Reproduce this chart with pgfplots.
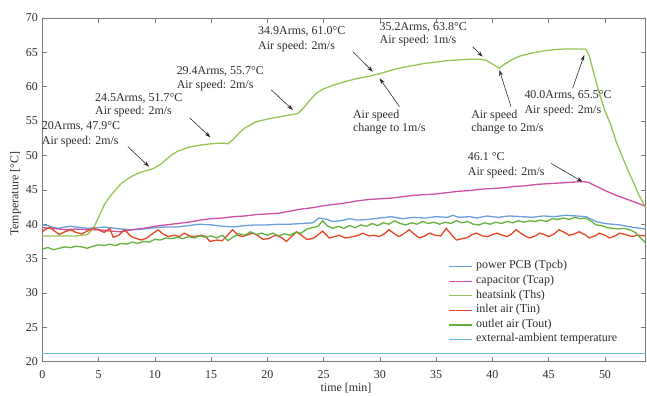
\documentclass[border=0pt]{standalone}
\usepackage{pgfplots}
\pgfplotsset{compat=1.18}
\usepackage{fontspec}
\setmainfont{Liberation Serif}
\usetikzlibrary{arrows.meta}
\definecolor{pcbblue}{RGB}{105,160,220}
\definecolor{capmag}{RGB}{205,80,165}
\definecolor{hsgreen}{RGB}{150,196,85}
\definecolor{inred}{RGB}{228,72,40}
\definecolor{outgreen}{RGB}{100,178,60}
\definecolor{ambcyan}{RGB}{110,185,230}
\definecolor{axgray}{RGB}{120,120,120}
\definecolor{txt}{RGB}{45,45,45}
\begin{document}
\begin{tikzpicture}[font=\fontsize{12}{14}\selectfont]
\begin{axis}[
  scale only axis, width=603.2bp, height=343.7bp,
  xmin=0, xmax=53.6, ymin=20, ymax=70,
  xtick={0,5,...,50}, ytick={20,25,...,70},
  tick align=inside, major tick length=5bp,
  axis line style={axgray, line width=0.7bp},
  every tick/.style={axgray, line width=0.6bp},
  tick label style={font=\fontsize{12}{14}\selectfont, text=txt},
  /pgf/number format/assume math mode=true,
  xticklabel style={anchor=base, yshift=-16.6bp},
  yticklabel style={anchor=east, xshift=-1bp},
  xlabel={time [min]}, ylabel={Temperature [°C]},
  label style={font=\fontsize{12}{14}\selectfont, text=txt},
  xlabel style={at={(axis description cs:0.5035,-0.088)}, anchor=base},
  ylabel style={at={(axis description cs:-0.0398,0.488)}, anchor=base},
  clip=false,
  legend style={draw=none, fill=white, at={(axis cs:36.1,34.9)}, anchor=north west,
    inner sep=0pt, outer sep=0pt, row sep=0pt, column sep=3bp,
    font=\fontsize{12}{14}\selectfont, text=txt,
    nodes={inner sep=0pt, text height=9.6bp, text depth=5bp}},
  legend cell align=left,
  legend image code/.code={\draw[#1] (0bp,0bp) -- (23bp,0bp);},
  every axis plot/.append style={line width=1.3bp},
]
% power PCB
\addplot[draw=pcbblue] coordinates {
(0,39.9)(0.5,39.8)(1,39.5)(1.5,39.4)(2,39.6)(2.5,39.7)(3,39.6)(3.5,39.5)(4,39.4)(5,39.5)(5.5,39.6)(6,39.5)(7,39.3)(8,39.2)(9,39.3)(10,39.5)(11,39.6)(12,39.6)(13,39.8)(14,40.0)(15,39.9)(16,39.7)(17,39.6)(18,39.8)(19,39.9)(20,39.9)(21,40.0)(22,40.0)(23,40.1)(24,40.2)(24.6,40.9)(25.3,40.7)(25.8,40.4)(26.5,40.5)(27.3,40.8)(28,40.6)(29,40.7)(30,40.9)(31,41.1)(32,40.8)(33,41.0)(34,40.9)(35,41.1)(36,41.0)(36.5,41.3)(37,41.0)(38,41.1)(38.6,40.9)(39.5,41.2)(40.5,41.0)(41.5,41.2)(42.7,41.1)(43.5,41.0)(44.5,41.2)(45.5,41.1)(46.5,41.3)(47.5,41.2)(48.3,41.1)(49.2,40.4)(50,40.1)(51.3,39.9)(52.3,39.6)(53.6,39.3)};
\addlegendentry{power PCB (Tpcb)}
% capacitor
\addplot[draw=capmag] coordinates {
(0,39.5)(1,39.4)(2,39.2)(3,39.3)(4,39.2)(5,39.2)(6,39.0)(7,38.9)(8,39.2)(9,39.4)(10,39.7)(11,39.9)(12,40.1)(13,40.3)(14,40.6)(15,40.8)(16,40.9)(17,41.1)(18,41.2)(19,41.4)(20,41.5)(21,41.6)(22,41.9)(23,42.2)(24,42.4)(25,42.7)(26,42.9)(27,43.1)(28,43.4)(29,43.6)(30,43.7)(31,43.8)(32,44.0)(33,44.2)(34,44.3)(35,44.4)(36,44.6)(37,44.8)(38,44.9)(39,45.1)(40,45.2)(41,45.3)(42,45.5)(43,45.6)(44,45.8)(45,45.9)(46,46.0)(47,46.1)(48,46.2)(48.5,46.1)(49,45.7)(50,44.9)(51,44.2)(52,43.6)(53,43.0)(53.6,42.6)};
\addlegendentry{capacitor (Tcap)}
% heatsink
\addplot[draw=hsgreen] coordinates {
(0,38.3)(1,38.3)(2,38.3)(3,38.3)(4,38.5)(4.5,39.3)(5,41.0)(5.5,42.8)(6,44.0)(6.5,45.0)(7,45.9)(7.5,46.5)(8,47.0)(8.5,47.4)(9,47.7)(9.5,47.9)(10,48.2)(10.5,48.7)(11,49.4)(11.5,50.1)(12,50.6)(13,51.2)(14,51.5)(15,51.7)(16,51.8)(16.5,51.7)(17,52.4)(17.5,53.3)(18,54.0)(19,54.9)(20,55.3)(21,55.6)(22,55.9)(22.7,56.1)(23.2,56.9)(23.7,57.9)(24.3,59.0)(25,59.7)(26,60.3)(27,60.8)(28,61.2)(29,61.5)(29.5,61.7)(30,61.9)(31,62.4)(32,62.8)(33,63.1)(34,63.4)(35,63.6)(36,63.8)(37,63.9)(38,64.0)(39,64.0)(39.5,63.8)(40,63.3)(40.6,62.7)(41,63.2)(41.8,64.0)(42.5,64.5)(43.5,64.9)(44.5,65.2)(45.5,65.4)(46.5,65.5)(47.5,65.5)(48.3,65.5)(48.6,64.5)(49,62.0)(49.5,59.0)(50,56.5)(50.5,54.5)(51,52.0)(51.5,50.0)(52,48.0)(52.5,46.2)(53,44.3)(53.6,42.4)};
\addlegendentry{heatsink (Ths)}
% inlet air
\addplot[draw=inred] coordinates {
(0,38.9)(0.3,39.3)(0.7,39.5)(1.1,39.0)(1.5,38.5)(2.0,38.9)(2.5,39.2)(3.0,38.8)(3.5,38.6)(4.0,39.0)(4.5,39.4)(5.0,39.2)(5.5,38.8)(6.0,39.4)(6.3,38.1)(6.8,38.4)(7.3,39.2)(7.9,38.2)(8.4,37.9)(8.8,37.7)(9.3,38.0)(9.7,38.5)(10.3,39.2)(10.7,38.6)(11.2,38.2)(11.7,38.4)(12.2,38.2)(12.6,38.7)(13.1,38.3)(13.5,38.2)(14.1,38.4)(14.5,38.2)(14.9,37.5)(15.5,37.7)(16.0,37.6)(16.4,38.3)(16.9,39.2)(17.4,38.4)(17.8,38.2)(18.3,38.5)(18.7,38.7)(19.2,38.3)(19.6,37.8)(20.1,37.9)(20.7,38.4)(21.2,38.1)(21.7,37.5)(22.2,38.3)(22.6,38.9)(23.1,38.3)(23.5,37.8)(24.0,37.9)(24.3,38.2)(24.9,39.0)(25.5,38.0)(26.0,38.2)(26.4,38.4)(26.9,38.0)(27.3,38.1)(27.9,38.3)(28.5,38.7)(29.0,38.3)(29.5,38.4)(29.9,38.2)(30.4,38.6)(30.8,39.2)(31.3,38.6)(31.7,38.2)(32.2,38.7)(32.6,39.2)(33.1,38.5)(33.5,38.0)(34.0,38.3)(34.4,38.7)(34.9,38.4)(35.4,38.3)(35.9,39.4)(36.4,38.4)(36.8,37.7)(37.3,37.9)(37.7,38.0)(38.2,38.5)(38.6,38.7)(39.1,38.3)(39.6,38.2)(40.0,38.5)(40.4,38.7)(40.9,38.4)(41.3,38.2)(41.7,38.6)(42.1,39.2)(42.6,38.6)(43.0,38.2)(43.3,38.0)(43.8,38.3)(44.2,38.7)(44.6,38.5)(45.0,38.2)(45.5,38.6)(45.9,39.2)(46.4,38.8)(46.8,38.4)(47.3,38.6)(47.7,38.9)(48.2,38.5)(48.6,38.0)(49.1,38.3)(49.5,38.7)(50.0,38.4)(50.4,38.0)(50.9,38.3)(51.3,38.7)(51.8,38.5)(52.4,38.2)(52.9,38.4)(53.6,38.3)};
\addlegendentry{inlet air (Tin)}
% outlet air
\addplot[draw=outgreen] coordinates {
(0,36.4)(0.5,36.6)(1,36.3)(1.5,36.5)(2,36.7)(2.5,36.6)(3,36.8)(3.5,36.7)(4,36.5)(4.5,36.8)(5,37.0)(5.5,36.9)(6,37.1)(6.5,36.9)(7,37.2)(7.5,37.1)(8,37.4)(8.5,37.2)(9,37.5)(9.5,37.4)(10,37.8)(10.5,37.7)(11,38.0)(11.5,37.9)(12,38.1)(12.5,37.9)(13,38.2)(13.5,38.0)(14,38.3)(14.5,38.1)(15,38.3)(15.5,38.0)(16,38.4)(16.5,37.6)(17,38.2)(17.5,38.6)(18,38.4)(18.5,38.9)(19,38.5)(19.5,38.7)(20,38.4)(20.5,38.7)(21,38.3)(21.5,38.6)(22,38.4)(22.5,38.8)(23,38.7)(23.5,39.3)(24,39.5)(24.5,39.7)(24.9,40.5)(25.3,39.8)(25.8,39.4)(26.3,39.7)(26.8,39.4)(27.3,39.8)(27.8,39.5)(28.3,39.9)(28.8,39.7)(29.3,40.1)(29.8,39.8)(30.3,40.2)(30.8,40.0)(31.3,40.5)(31.8,40.1)(32.3,39.9)(32.8,40.2)(33.3,40.0)(33.8,40.4)(34.3,40.1)(34.8,40.3)(35.3,40.0)(35.8,40.3)(36.3,40.1)(36.8,40.5)(37.3,40.2)(37.8,40.4)(38.3,40.0)(38.8,39.9)(39.3,40.2)(39.8,40.0)(40.3,40.3)(40.8,40.1)(41.3,40.4)(41.8,40.2)(42.3,40.5)(42.8,40.3)(43.3,40.5)(43.8,40.4)(44.3,40.6)(44.8,40.4)(45.3,40.8)(45.8,40.7)(46.3,40.9)(46.8,40.7)(47.3,41.0)(47.8,40.8)(48.3,40.9)(48.8,40.4)(49.2,39.9)(49.7,39.8)(50.2,39.5)(50.7,39.4)(51.2,39.3)(51.7,39.4)(52.2,39.2)(52.7,38.8)(53.1,38.1)(53.6,37.3)};
\addlegendentry{outlet air (Tout)}
% ambient
\addplot[draw=ambcyan, line width=1.6bp] table {
x y
0 21.2
10 21.2
20 21.2
30 21.2
40 21.2
53.6 21.2
};
\addlegendentry{external-ambient temperature}
% annotations
\begin{scope}[every node/.style={anchor=base west, inner sep=0pt, text=txt}]
\node at (axis cs:-0.05,53.71) {20Arms, 47.9°C};
\node at (axis cs:-0.05,51.67) {Air speed: 2m/s};
\node at (axis cs:4.68,57.82) {24.5Arms, 51.7°C};
\node at (axis cs:4.68,55.89) {Air speed: 2m/s};
\node at (axis cs:11.93,61.71) {29.4Arms, 55.7°C};
\node at (axis cs:11.93,59.77) {Air speed: 2m/s};
\node at (axis cs:19.17,67.53) {34.9Arms, 61.0°C};
\node at (axis cs:19.17,65.49) {Air speed: 2m/s};
\node at (axis cs:27.6,55.45) {Air speed};
\node at (axis cs:27.6,53.46) {change to 1m/s};
\node at (axis cs:29.96,68.25) {35.2Arms, 63.8°C};
\node at (axis cs:29.96,66.32) {Air speed: 1m/s};
\node at (axis cs:38.1,55.45) {Air speed};
\node at (axis cs:38.1,53.46) {change to 2m/s};
\node at (axis cs:42.83,58.32) {40.0Arms, 65.5°C};
\node at (axis cs:42.83,56.14) {Air speed: 2m/s};
\node at (axis cs:37.8,49.24) {46.1 °C};
\node at (axis cs:37.8,47.16) {Air speed: 2m/s};
\end{scope}
\begin{scope}[line width=0.6bp, draw=txt, -{Stealth[length=6bp,width=4bp]}]
\draw (axis cs:7.60,51.28) -- (axis cs:9.49,48.37);
\draw (axis cs:13.11,55.45) -- (axis cs:14.94,52.64);
\draw (axis cs:20.35,59.53) -- (axis cs:22.27,56.62);
\draw (axis cs:27.6,65.10) -- (axis cs:29.37,62.19);
\draw (axis cs:31.74,57.10) -- (axis cs:29.97,61.23);
\draw (axis cs:38.24,65.82) -- (axis cs:39.13,64.37);
\draw (axis cs:41.65,57.10) -- (axis cs:40.61,62.44);
\draw (axis cs:47.12,59.77) -- (axis cs:48.16,64.62);
\draw (axis cs:45.2,48.86) -- (axis cs:48.0,46.19);
\end{scope}
\end{axis}
\pgfresetboundingbox
\path[use as bounding box] ([shift={(-42.3bp,-34.3bp)}]current axis.south west) rectangle ([shift={(1.5bp,18bp)}]current axis.north east);
\end{tikzpicture}
\end{document}
